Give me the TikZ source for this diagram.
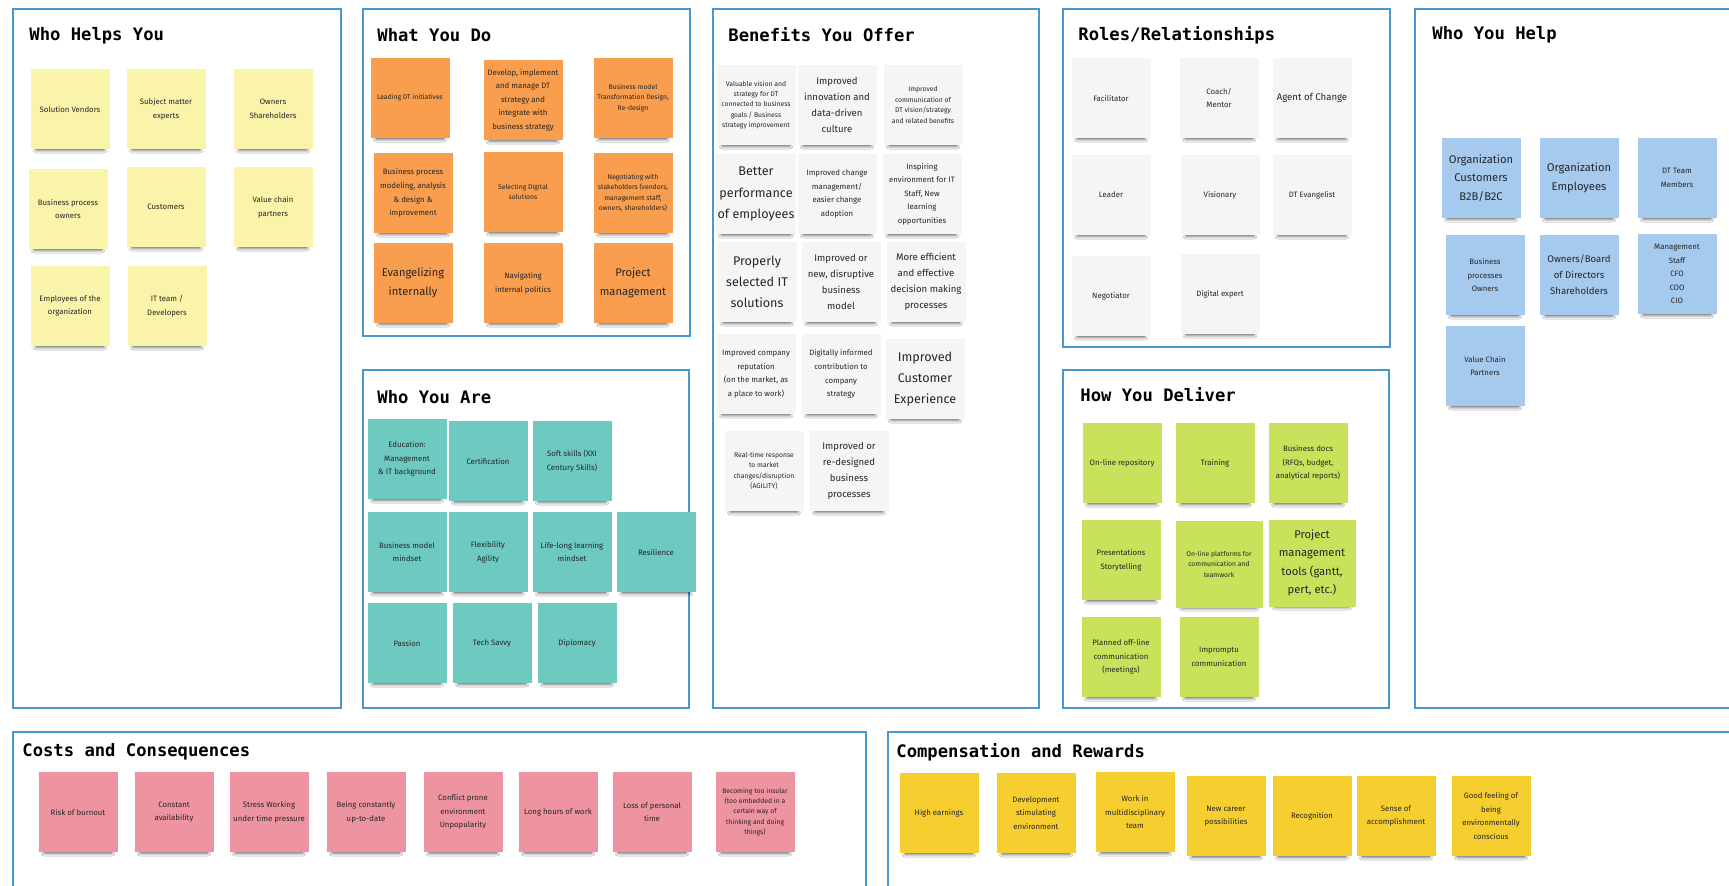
\documentclass[tikz,border=0pt]{standalone}
\usepackage{fontspec}
\usepackage{tikz}
\usetikzlibrary{shadows.blur}

\newfontfamily\notefont{Fira Sans}
\newfontfamily\headfont{DejaVu Sans Mono}

\definecolor{frameblue}{RGB}{74,150,206}
\definecolor{paleyellow}{RGB}{250,244,170}
\definecolor{stickyorange}{RGB}{248,158,78}
\definecolor{stickyteal}{RGB}{110,201,193}
\definecolor{stickywhite}{RGB}{244,245,246}
\definecolor{stickylime}{RGB}{200,226,92}
\definecolor{stickyblue}{RGB}{166,201,238}
\definecolor{stickypink}{RGB}{238,148,160}
\definecolor{stickygold}{RGB}{246,206,48}

\begin{document}
\begin{tikzpicture}[x=0.5pt, y=-0.5pt]

    %--- Styles: frames, titles, sticky notes and text sizes
    \tikzstyle{panel}=[draw=frameblue, line width=1.4pt]
    \tikzstyle{panel title}=[anchor=west, inner sep=0pt, font=\headfont\bfseries\fontsize{8.6}{10}\selectfont]
    \tikzstyle{note}=[rectangle, minimum width=39.5pt, minimum height=40pt, inner sep=1pt, align=center,
        text=black!85, font=\notefont\fontsize{3.9}{6.8}\selectfont,
        blur shadow={shadow xshift=0pt, shadow yshift=-4pt, shadow scale=0.85,
            shadow opacity=75, shadow blur radius=2pt, shadow blur steps=8}]
    \tikzstyle{tiny text}=[font=\notefont\fontsize{3.4}{5.2}\selectfont]
    \tikzstyle{mid text}=[font=\notefont\fontsize{4.8}{8}\selectfont]
    \tikzstyle{big text}=[font=\notefont\fontsize{5.6}{9.2}\selectfont]
    \tikzstyle{huge text}=[font=\notefont\fontsize{6.3}{10.6}\selectfont]

    \fill[white] (0,0) rectangle (1729,885);
    \useasboundingbox (0,0) rectangle (1729,885);

    %--- Frames
    \draw[panel] (13,9) rectangle (341,708);
    \draw[panel] (363,9) rectangle (690,336);
    \draw[panel] (363,370) rectangle (689,708);
    \draw[panel] (713,9) rectangle (1039,708);
    \draw[panel] (1063,9) rectangle (1390,347);
    \draw[panel] (1063,370) rectangle (1389,708);
    \draw[panel] (1415,9) rectangle (1745,708);
    \draw[panel] (13,732) rectangle (866,900);
    \draw[panel] (888,732) rectangle (1745,900);

    %--- Titles
    \node[panel title] (Th) at (29,36)   {Who Helps You};
    \node[panel title] (Td) at (377,35)  {What You Do};
    \node[panel title] (Ta) at (377,397) {Who You Are};
    \node[panel title] (Tb) at (728,35)  {Benefits You Offer};
    \node[panel title] (Tr) at (1078,35) {Roles/Relationships};
    \node[panel title] (Tl) at (1080,395) {How You Deliver};
    \node[panel title] (Tp) at (1432,35) {Who You Help};
    \node[panel title] (Tc) at (22,752)  {Costs and Consequences};
    \node[panel title] (Tg) at (896,752) {Compensation and Rewards};

    %--- Who Helps You (yellow)
    \node[note, fill=paleyellow] (H1) at (70,109)  {Solution Vendors};
    \node[note, fill=paleyellow] (H2) at (166,109) {Subject matter\\experts};
    \node[note, fill=paleyellow] (H3) at (273,109) {Owners\\Shareholders};
    \node[note, fill=paleyellow] (H4) at (68,209)  {Business process\\owners};
    \node[note, fill=paleyellow] (H5) at (166,207) {Customers};
    \node[note, fill=paleyellow] (H6) at (273,207) {Value chain\\partners};
    \node[note, fill=paleyellow] (H7) at (70,306)  {Employees of the\\organization};
    \node[note, fill=paleyellow] (H8) at (167,306) {IT team /\\Developers};

    %--- What You Do (orange)
    \node[note, fill=stickyorange, tiny text] (D1) at (410,98)  {Leading DT initiatives};
    \node[note, fill=stickyorange] (D2) at (523,100) {Develop, implement\\and manage DT\\strategy and\\integrate with\\business strategy};
    \node[note, fill=stickyorange, tiny text] (D3) at (633,98)  {Business model\\Transformation Design,\\Re-design};
    \node[note, fill=stickyorange] (D4) at (413,193) {Business process\\modeling, analysis\\\& design \&\\improvement};
    \node[note, fill=stickyorange, tiny text] (D5) at (523,192) {Selecting Digital\\solutions};
    \node[note, fill=stickyorange, tiny text] (D6) at (633,193) {Negotiating with\\stakeholders (vendors,\\management staff,\\owners, shareholders)};
    \node[note, fill=stickyorange, big text] (D7) at (413,283) {Evangelizing\\internally};
    \node[note, fill=stickyorange] (D8) at (523,283) {Navigating\\internal politics};
    \node[note, fill=stickyorange, big text] (D9) at (633,283) {Project\\management};

    %--- Who You Are (teal)
    \node[note, fill=stickyteal] (A1)  at (407,459) {Education:\\Management\\\& IT background};
    \node[note, fill=stickyteal] (A2)  at (488,461) {Certification};
    \node[note, fill=stickyteal] (A3)  at (572,461) {Soft skills (XXI\\Century Skills)};
    \node[note, fill=stickyteal] (A4)  at (407,552) {Business model\\mindset};
    \node[note, fill=stickyteal] (A5)  at (488,552) {Flexibility\\Agility};
    \node[note, fill=stickyteal] (A6)  at (572,552) {Life-long learning\\mindset};
    \node[note, fill=stickyteal] (A7)  at (656,552) {Resilience};
    \node[note, fill=stickyteal] (A8)  at (407,643) {Passion};
    \node[note, fill=stickyteal] (A9)  at (492,643) {Tech Savvy};
    \node[note, fill=stickyteal] (A10) at (577,643) {Diplomacy};

    %--- Benefits You Offer (white)
    \node[note, fill=stickywhite, tiny text] (B1) at (756,105) {Valuable vision and\\strategy for DT\\connected to business\\goals / Business\\strategy improvement};
    \node[note, fill=stickywhite, mid text]  (B2) at (837,105) {Improved\\innovation and\\data-driven\\culture};
    \node[note, fill=stickywhite, tiny text] (B3) at (923,105) {Improved\\communication of\\DT vision/strategy\\and related benefits};
    \node[note, fill=stickywhite, huge text] (B4) at (756,194) {Better\\performance\\of employees};
    \node[note, fill=stickywhite] (B5) at (837,194) {Improved change\\management/\\easier change\\adoption};
    \node[note, fill=stickywhite] (B6) at (922,194) {Inspiring\\environment for IT\\Staff, New\\learning\\opportunities};
    \node[note, fill=stickywhite, huge text] (B7) at (757,282) {Properly\\selected IT\\solutions};
    \node[note, fill=stickywhite, mid text]  (B8) at (841,282) {Improved or\\new, disruptive\\business\\model};
    \node[note, fill=stickywhite, mid text]  (B9) at (926,282) {More efficient\\and effective\\decision making\\processes};
    \node[note, fill=stickywhite] (B10) at (756,374) {Improved company\\reputation\\(on the market, as\\a place to work)};
    \node[note, fill=stickywhite] (B11) at (841,374) {Digitally informed\\contribution to\\company\\strategy};
    \node[note, fill=stickywhite, huge text] (B12) at (925,379) {Improved\\Customer\\Experience};
    \node[note, fill=stickywhite, tiny text] (B13) at (764,471) {Real-time response\\to market\\changes/disruption\\(AGILITY)};
    \node[note, fill=stickywhite, mid text]  (B14) at (849,471) {Improved or\\re-designed\\business\\processes};

    %--- Roles/Relationships (white)
    \node[note, fill=stickywhite] (R1) at (1111,98)  {Facilitator};
    \node[note, fill=stickywhite] (R2) at (1219,98)  {Coach/\\Mentor};
    \node[note, fill=stickywhite, mid text] (R3) at (1312,98) {Agent of Change};
    \node[note, fill=stickywhite] (R4) at (1111,195) {Leader};
    \node[note, fill=stickywhite] (R5) at (1220,195) {Visionary};
    \node[note, fill=stickywhite] (R6) at (1312,195) {DT Evangelist};
    \node[note, fill=stickywhite] (R7) at (1111,296) {Negotiator};
    \node[note, fill=stickywhite] (R8) at (1220,294) {Digital expert};

    %--- How You Deliver (lime)
    \node[note, fill=stickylime] (L1) at (1122,463) {On-line repository};
    \node[note, fill=stickylime] (L2) at (1215,463) {Training};
    \node[note, fill=stickylime] (L3) at (1308,463) {Business docs\\(RFQs, budget,\\analytical reports)};
    \node[note, fill=stickylime] (L4) at (1121,560) {Presentations\\Storytelling};
    \node[note, fill=stickylime, tiny text, minimum size=43.5pt] (L5) at (1219,564) {On-line platforms for\\communication and\\teamwork};
    \node[note, fill=stickylime, big text, minimum size=43.5pt]  (L6) at (1312,563) {Project\\management\\tools (gantt,\\pert, etc.)};
    \node[note, fill=stickylime] (L7) at (1121,657) {Planned off-line\\communication\\(meetings)};
    \node[note, fill=stickylime] (L8) at (1219,657) {Impromptu\\communication};

    %--- Who You Help (blue)
    \node[note, fill=stickyblue, big text] (P1) at (1481,178) {Organization\\Customers\\B2B/B2C};
    \node[note, fill=stickyblue, big text] (P2) at (1579,178) {Organization\\Employees};
    \node[note, fill=stickyblue] (P3) at (1677,178) {DT Team\\Members};
    \node[note, fill=stickyblue] (P4) at (1485,275) {Business\\processes\\Owners};
    \node[note, fill=stickyblue, mid text] (P5) at (1579,275) {Owners/Board\\of Directors\\Shareholders};
    \node[note, fill=stickyblue] (P6) at (1677,274) {Management\\Staff\\CFO\\COO\\CIO};
    \node[note, fill=stickyblue] (P7) at (1485,366) {Value Chain\\Partners};

    %--- Costs and Consequences (pink)
    \node[note, fill=stickypink] (C1) at (78,812)  {Risk of burnout};
    \node[note, fill=stickypink] (C2) at (174,812) {Constant\\availability};
    \node[note, fill=stickypink] (C3) at (269,812) {Stress Working\\under time pressure};
    \node[note, fill=stickypink] (C4) at (366,812) {Being constantly\\up-to-date};
    \node[note, fill=stickypink] (C5) at (463,812) {Conflict prone\\environment\\Unpopularity};
    \node[note, fill=stickypink] (C6) at (558,812) {Long hours of work};
    \node[note, fill=stickypink] (C7) at (652,812) {Loss of personal\\time};
    \node[note, fill=stickypink, tiny text] (C8) at (755,812) {Becoming too insular\\(too embedded in a\\certain way of\\thinking and doing\\things)};

    %--- Compensation and Rewards (gold)
    \node[note, fill=stickygold] (G1) at (939,813)  {High earnings};
    \node[note, fill=stickygold] (G2) at (1036,813) {Development\\stimulating\\environment};
    \node[note, fill=stickygold] (G3) at (1135,812) {Work in\\multidisciplinary\\team};
    \node[note, fill=stickygold] (G4) at (1226,816) {New career\\possibilities};
    \node[note, fill=stickygold] (G5) at (1312,816) {Recognition};
    \node[note, fill=stickygold] (G6) at (1396,816) {Sense of\\accomplishment};
    \node[note, fill=stickygold] (G7) at (1491,816) {Good feeling of\\being\\environmentally\\conscious};

\end{tikzpicture}
\end{document}
